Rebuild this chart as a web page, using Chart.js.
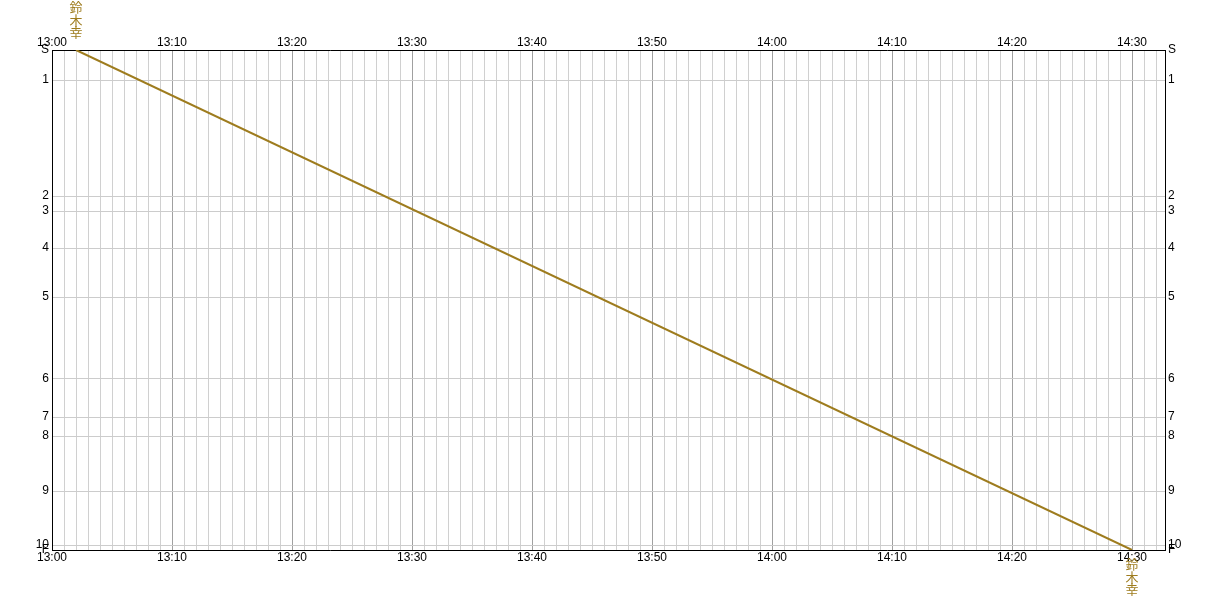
<!DOCTYPE html>
<html>
<head>
<meta charset="utf-8">
<script src="https://cdn.jsdelivr.net/npm/chart.js@4/dist/chart.umd.min.js"></script>
<style>
  html, body { margin: 0; padding: 0; background: #fff; }
  canvas { display: block; }
</style>
</head>
<body>
<canvas id="dia" width="1217" height="600"></canvas>
<script>
// stations, top to bottom, with their distance along the line (0..100)
const stations = ["S", "1", "2", "3", "4", "5", "6", "7", "8", "9", "10", "F"]
const stationPos = [0, 6, 29.2, 32.2, 39.6, 49.4, 65.8, 73.4, 77.2, 88.2, 99, 100]

// time axis in minutes after 13:00
const startHour = 13
const timeMin = 0
const timeMax = 92.75
const majorEvery = 10

// one train
const trainName = "鈴木幸"
const trainStops = ["S", "F"]
const trainTimes = ["13:02", "14:30"]

const lineColor = "#9e7c1e"

function toMinutes(hhmm) {
  const [h, m] = hhmm.split(":").map(Number)
  return (h - startHour) * 60 + m
}

function fmtTime(min) {
  const h = startHour + Math.floor(min / 60)
  const m = min % 60
  return h + ":" + String(m).padStart(2, "0")
}

const trainData = trainStops.map((s, i) => ({
  x: toMinutes(trainTimes[i]),
  y: stationPos[stations.indexOf(s)]
}))

const minuteTicks = []
for (let m = Math.ceil(timeMin); m <= timeMax; m++) minuteTicks.push({ value: m })

Chart.defaults.font.family = "'Liberation Sans', Arial, sans-serif"
Chart.defaults.font.size = 12
Chart.defaults.color = "#000"

const timeAxis = (position, showGrid, size) => ({
  type: "linear",
  position: position,
  min: timeMin,
  max: timeMax,
  afterBuildTicks: (axis) => { axis.ticks = minuteTicks.map(t => ({ ...t })) },
  afterFit: (axis) => { axis.height = size },
  grid: {
    display: showGrid,
    drawTicks: false,
    lineWidth: 1,
    color: (ctx) => ctx.tick && ctx.tick.value % majorEvery === 0 ? "#a0a0a0" : "#d0d0d0"
  },
  border: { display: true, color: "#000", width: 1 },
  ticks: {
    autoSkip: false,
    maxRotation: 0,
    padding: 0,
    callback: (v) => v % majorEvery === 0 ? fmtTime(v) : ""
  }
})

const stationAxis = (position, showGrid, size) => ({
  type: "linear",
  position: position,
  reverse: true,
  min: stationPos[0],
  max: stationPos[stationPos.length - 1],
  afterBuildTicks: (axis) => { axis.ticks = stationPos.map(v => ({ value: v })) },
  afterFit: (axis) => { axis.width = size },
  grid: { display: showGrid, drawTicks: false, color: "#cccccc", lineWidth: 1 },
  border: { display: true, color: "#000", width: 1 },
  ticks: {
    autoSkip: false,
    padding: 3,
    callback: (v, i) => stations[i]
  }
})

// vertical train name above the first stop and below the last
const trainLabel = {
  id: "trainLabel",
  afterDraw(chart) {
    const { ctx, chartArea } = chart
    const xs = chart.scales.x
    const first = trainData[0]
    const last = trainData[trainData.length - 1]
    const chars = trainName.split("")
    const h = 12.5
    ctx.save()
    ctx.fillStyle = lineColor
    ctx.font = "13px 'Noto Sans CJK JP'"
    ctx.textAlign = "center"
    ctx.textBaseline = "top"
    let x = xs.getPixelForValue(first.x)
    let y0 = chartArea.top - 49
    chars.forEach((c, i) => ctx.fillText(c, x, y0 + i * h))
    x = xs.getPixelForValue(last.x)
    y0 = chartArea.bottom + 8
    chars.forEach((c, i) => ctx.fillText(c, x, y0 + i * h))
    ctx.restore()
  }
}

new Chart(document.getElementById("dia"), {
  type: "scatter",
  data: {
    datasets: [{
      label: trainName,
      data: trainData,
      showLine: true,
      borderColor: lineColor,
      backgroundColor: lineColor,
      borderWidth: 2,
      pointRadius: 0
    }]
  },
  options: {
    responsive: false,
    animation: false,
    layout: { padding: 0 },
    plugins: { legend: { display: false }, tooltip: { enabled: false } },
    scales: {
      x: timeAxis("bottom", true, 50),
      x2: timeAxis("top", false, 50),
      y: stationAxis("left", true, 52),
      y2: stationAxis("right", false, 52)
    }
  },
  plugins: [trainLabel]
})
</script>
</body>
</html>
